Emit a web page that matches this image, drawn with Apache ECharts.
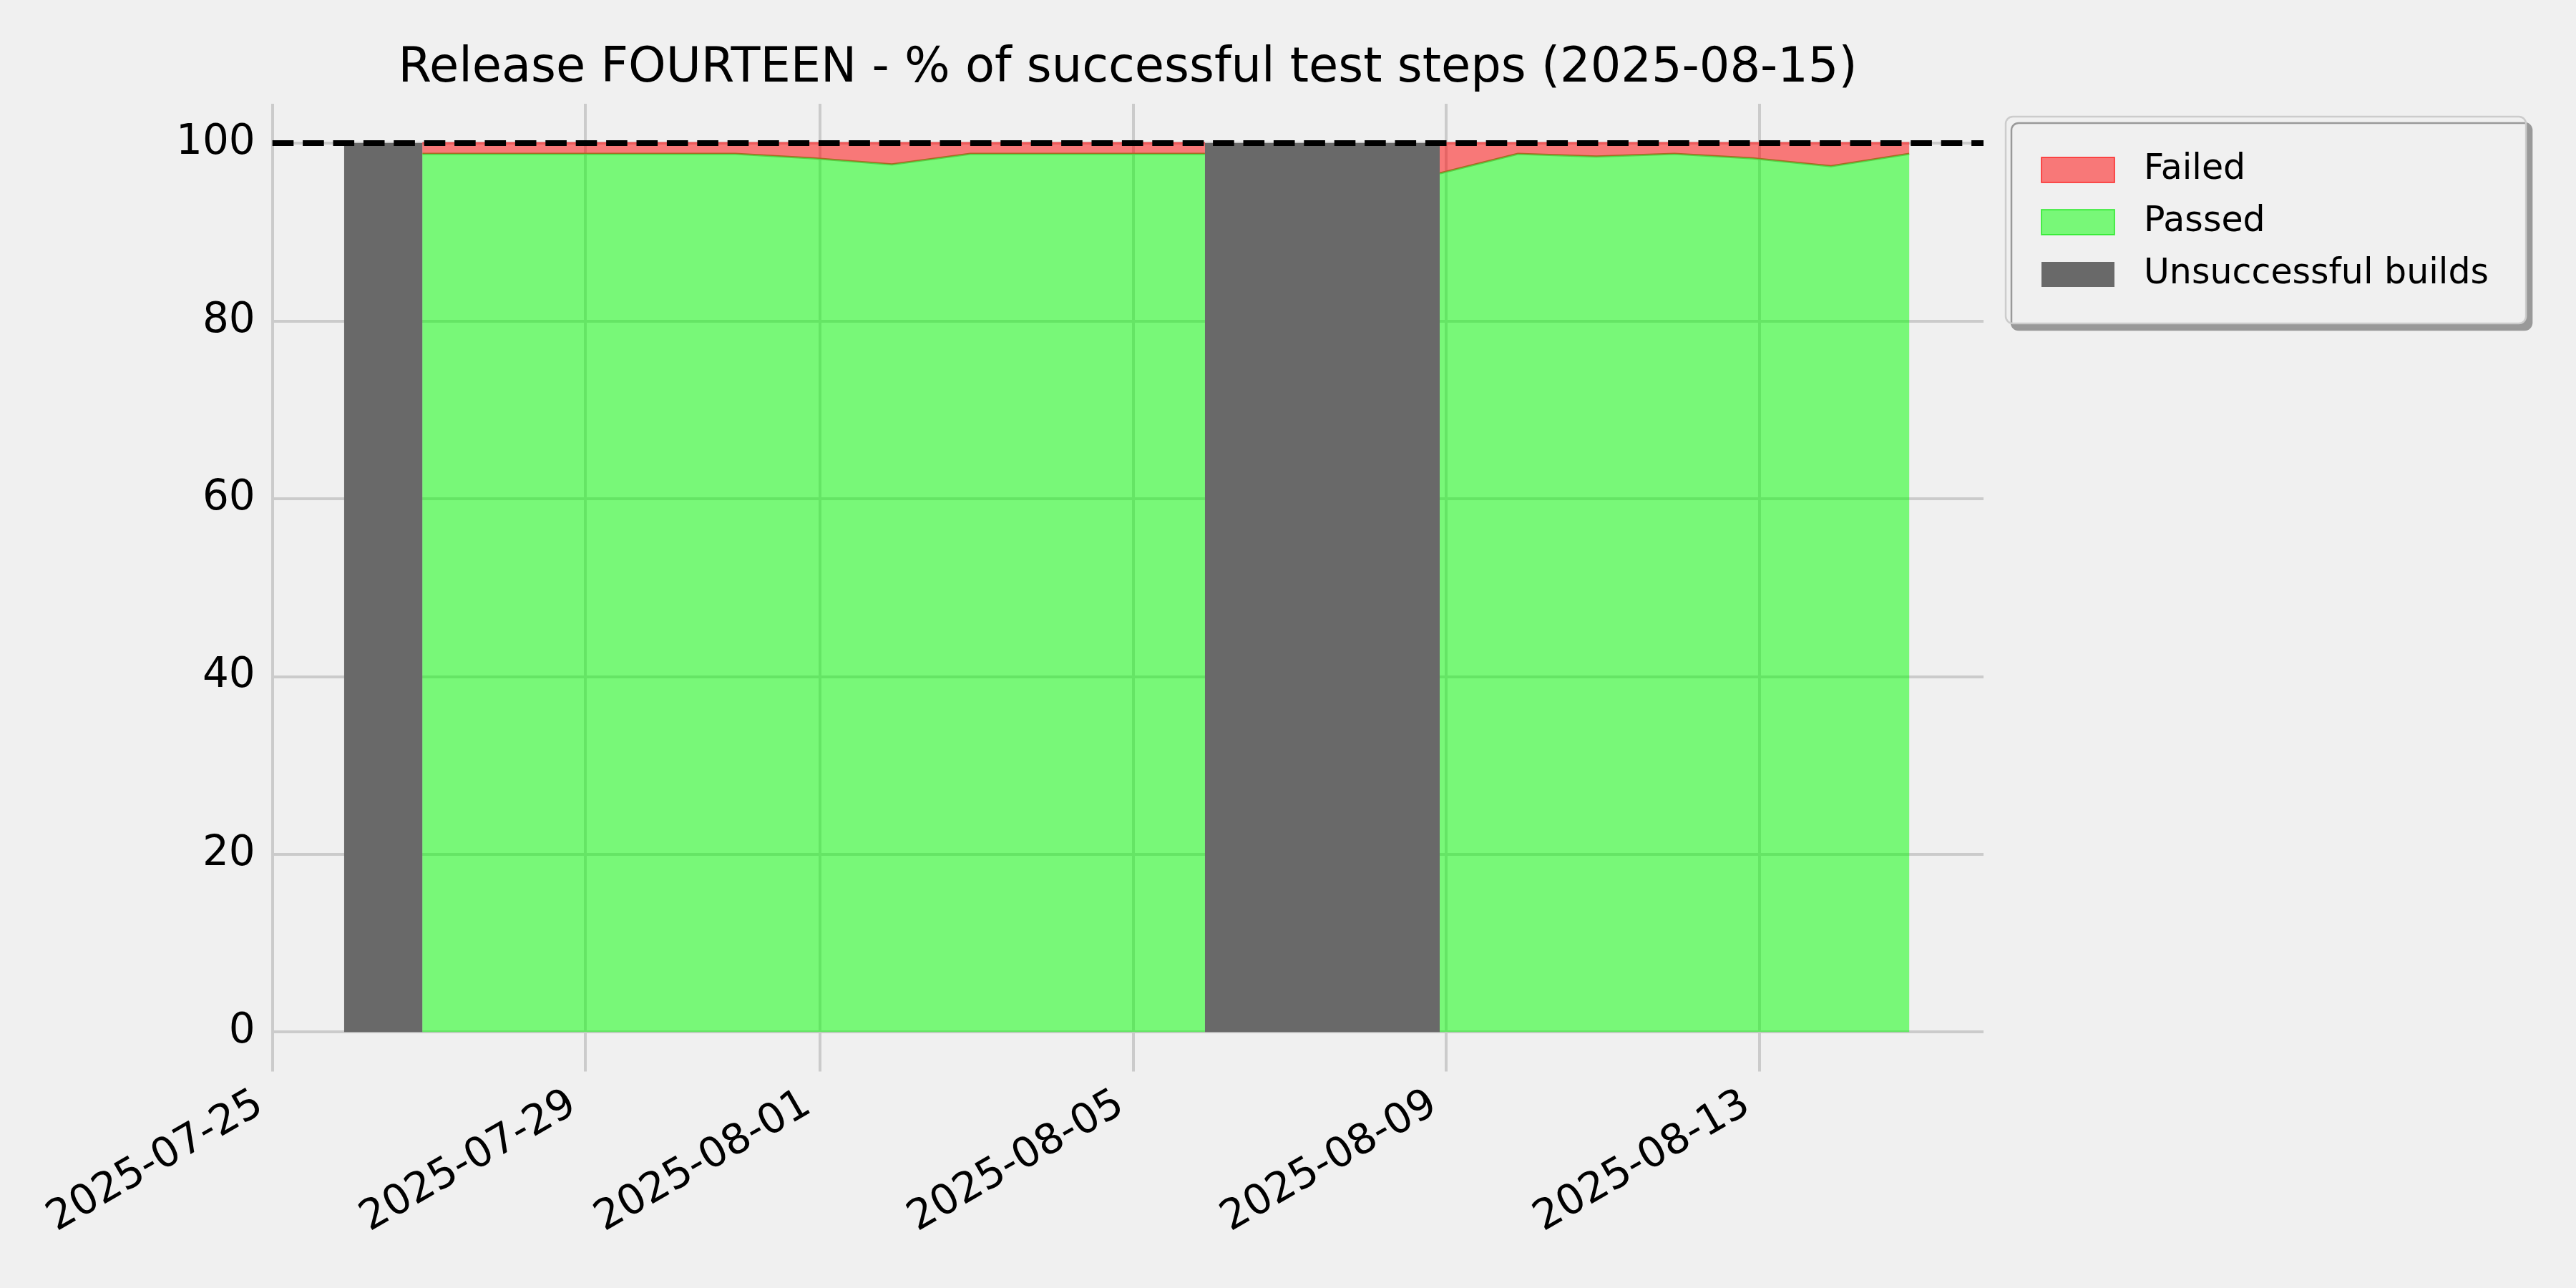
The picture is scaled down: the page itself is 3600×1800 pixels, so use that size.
<!DOCTYPE html>
<html>
<head>
<meta charset="utf-8">
<script src="https://cdn.jsdelivr.net/npm/echarts@6/dist/echarts.min.js"></script>
<style>
html,body{margin:0;padding:0;background:#f0f0f0;}
#chart{width:3600px;height:1800px;}
</style>
</head>
<body>
<div id="chart"></div>
<script>
// Build dates (local CEST midnight)
const dates = ['2025-07-26','2025-07-27','2025-07-28','2025-07-29','2025-07-30','2025-07-31',
  '2025-08-01','2025-08-02','2025-08-03','2025-08-04','2025-08-05','2025-08-06','2025-08-07',
  '2025-08-08','2025-08-09','2025-08-10','2025-08-11','2025-08-12','2025-08-13','2025-08-14','2025-08-15'];
// % passed test steps
const passed = [null, 98.8, 98.8, 98.8, 98.8, 98.8, 98.3, 97.6, 98.8, 98.8, 98.8, 98.8, null, null,
  96.6, 98.8, 98.5, 98.8, 98.3, 97.4, 98.8];
// % failed test steps
const failed = [null, 1.2, 1.2, 1.2, 1.2, 1.2, 1.7, 2.4, 1.2, 1.2, 1.2, 1.2, null, null,
  3.4, 1.2, 1.5, 1.2, 1.7, 2.6, 1.2];
// unsuccessful builds band
const unsuccessful = [100, 100, null, null, null, null, null, null, null, null, null,
  100, 100, 100, 100, null, null, null, null, null, null];
// x tick labels
const xTicks = ['2025-07-25','2025-07-29','2025-08-01','2025-08-05','2025-08-09','2025-08-13'];
const yTicks = [0, 20, 40, 60, 80, 100];
const targetLine = 100;
const titleText = 'Release FOURTEEN - % of successful test steps (2025-08-15)';

const toTs = d => Date.parse(d + 'T00:00:00+02:00');
const tickTs = d => Date.parse(d + 'T00:00:00Z');
// value first, timestamp second (so the y value is the stacked dimension)
const pair = arr => dates.map((d, i) => [arr[i], toTs(d)]);

const X_MIN = Date.parse('2025-07-25T00:00:00Z');
const X_MAX = Date.parse('2025-08-15T20:47:00Z');
const FONT = 'DejaVu Sans';

function fmt(v) {
  const d = new Date(v);
  const p = n => String(n).padStart(2, '0');
  return d.getUTCFullYear() + '-' + p(d.getUTCMonth() + 1) + '-' + p(d.getUTCDate());
}

const chart = echarts.init(document.getElementById('chart'), null, {renderer: 'canvas'});
const gridColor = '#cbcbcb';
chart.setOption({
  backgroundColor: '#f0f0f0',
  animation: false,
  title: {
    text: titleText,
    left: 1571,
    top: 58,
    textAlign: 'center',
    textStyle: {fontFamily: FONT, fontSize: 67, fontWeight: 'normal', color: '#000'}
  },
  grid: {left: 380.7, right: 828, top: 145, bottom: 302.5, containLabel: false},
  legend: {
    orient: 'vertical',
    left: 2803,
    top: 163,
    padding: [50, 52, 44, 49],
    itemWidth: 102,
    itemHeight: 35,
    itemGap: 24,
    icon: 'rect',
    backgroundColor: '#f0f0f0',
    borderColor: '#cccccc',
    borderWidth: 2.5,
    borderRadius: 10,
    shadowColor: '#999999',
    shadowBlur: 0,
    shadowOffsetX: 8,
    shadowOffsetY: 9,
    textStyle: {fontFamily: FONT, fontSize: 49, color: '#000', padding: [0, 0, 0, 36]},
    data: [
      {name: 'Failed', itemStyle: {color: 'rgba(255,0,0,0.5)', borderColor: 'rgba(255,0,0,0.6)', borderWidth: 2}},
      {name: 'Passed', itemStyle: {color: 'rgba(0,255,0,0.5)', borderColor: 'rgba(0,230,0,0.6)', borderWidth: 2}},
      {name: 'Unsuccessful builds', itemStyle: {color: '#696969', borderWidth: 0}}
    ]
  },
  xAxis: {
    type: 'value',
    min: X_MIN,
    max: X_MAX,
    axisLine: {show: false},
    axisTick: {show: false, customValues: xTicks.map(tickTs)},
    axisLabel: {
      customValues: xTicks.map(tickTs),
      formatter: v => fmt(v),
      rotate: 30,
      margin: 32,
      fontFamily: FONT,
      fontSize: 58,
      color: '#000',
      padding: [0, 20, 0, 0]
    },
    splitLine: {show: true, lineStyle: {color: gridColor, width: 4}}
  },
  yAxis: {
    type: 'value',
    min: -4.45,
    max: 104.43,
    axisLine: {show: false},
    axisTick: {show: false, customValues: yTicks},
    axisLabel: {customValues: yTicks, margin: 24, fontFamily: FONT, fontSize: 58, color: '#000'},
    splitLine: {show: true, lineStyle: {color: gridColor, width: 4}}
  },
  series: [
    {
      name: 'Unsuccessful builds',
      type: 'line',
      data: pair(unsuccessful),
      encode: {x: 1, y: 0},
      showSymbol: false,
      connectNulls: false,
      itemStyle: {color: '#696969'},
      lineStyle: {width: 0, color: '#696969'},
      areaStyle: {color: '#696969', opacity: 1},
      z: 2
    },
    {
      name: 'Passed',
      type: 'line',
      stack: 'steps',
      data: pair(passed),
      encode: {x: 1, y: 0},
      showSymbol: false,
      connectNulls: false,
      itemStyle: {color: 'rgba(0,255,0,0.5)'},
      lineStyle: {width: 3, color: '#52d446'},
      areaStyle: {color: 'rgba(0,255,0,0.5)', opacity: 1},
      z: 3
    },
    {
      name: 'Failed',
      type: 'line',
      stack: 'steps',
      data: pair(failed),
      encode: {x: 1, y: 0},
      showSymbol: false,
      connectNulls: false,
      itemStyle: {color: 'rgba(255,0,0,0.5)'},
      lineStyle: {width: 3, color: '#f05a5a'},
      areaStyle: {color: 'rgba(255,0,0,0.5)', opacity: 1},
      z: 4,
      markLine: {
        silent: true,
        symbol: 'none',
        z: 10,
        label: {show: false},
        lineStyle: {color: '#000', width: 8, type: [29.6, 12.8]},
        data: [{yAxis: targetLine}]
      }
    }
  ]
});
</script>
</body>
</html>
